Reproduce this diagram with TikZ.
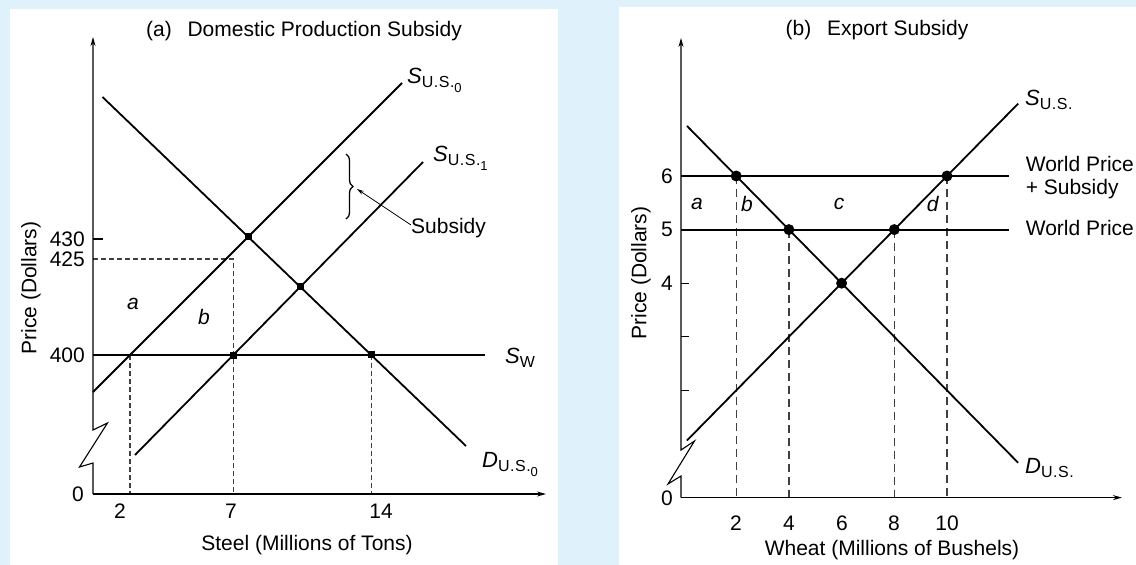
\documentclass[tikz,border=0pt]{standalone}
\usepackage{fontspec}
\setmainfont{Liberation Sans}
\usetikzlibrary{arrows.meta,decorations.pathreplacing}
\definecolor{bgblue}{HTML}{DFF1FA}
\definecolor{dashgray}{gray}{0.25}
\newcommand{\myfs}[1]{\fontsize{#1}{#1}\selectfont}
\newcommand{\curvelab}[3]{{\myfs{22}\textit{#1}}\raisebox{-4pt}{\myfs{16}#2\raisebox{-5pt}{\myfs{13}#3}}}
\newcommand{\usdots}{U\kern0.5pt.\kern0.5pt S\kern0.5pt.}
\begin{document}
\begin{tikzpicture}[x=1pt,y=-1pt,
  txt/.style={font=\myfs{21}, inner sep=0pt},
  curve/.style={line width=1.8pt},
  axisline/.style={line width=1.1pt},
  axarrow/.style={-{Stealth[length=9pt,width=5pt]}},
  dasha/.style={dashgray, line width=1.1pt, dash pattern=on 5pt off 3pt},
  dashb/.style={dashgray, line width=1.3pt, dash pattern=on 8pt off 5pt},
  sqdot/.style={fill=black, rectangle, minimum size=7pt, inner sep=0pt},
  rdot/.style={fill=black, circle, minimum size=11pt, inner sep=0pt}]
\useasboundingbox (0,0) rectangle (1136,565);
\fill[bgblue] (0,0) rectangle (1136,565);
\fill[white] (10,9) rectangle (558,565);
\fill[white] (619,7) rectangle (1136,565);

% ---------------- Panel (a) ----------------
\coordinate (aO) at (93,494);
\coordinate (aYtop) at (93,37);
\coordinate (aXend) at (546,494);
\coordinate (s0a) at (93,392);
\coordinate (s0b) at (402,83);
\coordinate (s1a) at (135,455);
\coordinate (s1b) at (423,162);
\coordinate (da) at (102.5,97);
\coordinate (db) at (466,446);
\coordinate (swa) at (93,355);
\coordinate (swb) at (485,355);
\coordinate (p425) at (93,259);
\coordinate (e0) at (intersection of s0a--s0b and da--db);
\coordinate (e1) at (intersection of s1a--s1b and da--db);
\coordinate (e2) at (intersection of s1a--s1b and swa--swb);
\coordinate (e3) at (intersection of da--db and swa--swb);
\coordinate (e4) at (intersection of s0a--s0b and swa--swb);

\draw[dasha] (p425) -- (p425 -| e2) -- (e2 |- aO);
\draw[dasha] (e4) -- (e4 |- aO);
\draw[dasha] (e3) -- (e3 |- aO);

\draw[axisline, axarrow] (aO) -- (93,463) -- (79.5,467) -- (107.5,423) -- (93,430) -- (aYtop);
\draw[axisline, axarrow] (aO) -- (aXend);
\draw[axisline] (93,239) -- (103,239);

\draw[curve] (s0a) -- (s0b);
\draw[curve] (s1a) -- (s1b);
\draw[curve] (da) -- (db);
\draw[curve] (swa) -- (swb);

\node[sqdot] (d0) at (e0) {};
\node[sqdot] (d1) at (e1) {};
\node[sqdot] (d2) at (e2) {};
\node[sqdot] (d3) at (e3) {};

\draw[line width=1.3pt, decorate, decoration={brace, amplitude=7pt}] (346,154) -- (346,219);
\coordinate (brtip) at (357,189);
\node[txt, anchor=west, inner sep=1pt] (subs) at (410,228) {Subsidy};
\draw[line width=0.7pt, -{Stealth[length=7pt,width=4pt]}] (subs.west) ++(1,-3) -- (brtip);

\node[txt] (ttla) at (304,31) {(a)\hspace{0.75em}Domestic Production Subsidy};
\node[txt, rotate=90] (yla) at (31,288) {Price (Dollars)};
\node[txt, anchor=east] (t430) at (85,239) {430};
\node[txt, anchor=east] (t425) at (85,259) {425};
\node[txt, anchor=east] (t400) at (85,355) {400};
\node[txt] (t0a) at (78,494) {0};
\node[txt] (x2a) at (120,511) {2};
\node[txt] (x7a) at (231,511) {7};
\node[txt] (x14a) at (381,511) {14};
\node[txt] (xla) at (307,545) {Steel (Millions of Tons)};
\node[txt] (la) at (133,304) {\textit{a}};
\node[txt] (lb) at (204,317) {\textit{b}};
\node[txt, anchor=base west] (ls0) at (407,83) {\curvelab{S}{\usdots}{0}};
\node[txt, anchor=base west] (ls1) at (433,161) {\curvelab{S}{\usdots}{1}};
\node[txt, anchor=base west] (lsw) at (505,363) {\curvelab{S}{W}{}};
\node[txt, anchor=base west] (ld0) at (482,467) {\curvelab{D}{\usdots}{0}};

% ---------------- Panel (b) ----------------
\begin{scope}[shift={(683.5pt,-497.6pt)}, x=26.35pt, y=53.6pt]
  \coordinate (bO) at (-0.095,0);
  \coordinate (bYtop) at (-0.095,8.575);
  \coordinate (bXend) at (16.64,0);
  \coordinate (w6a) at (-0.095,6);
  \coordinate (w6b) at (12.34,6);
  \coordinate (w5a) at (-0.095,5);
  \coordinate (w5b) at (12.34,5);
  \coordinate (sa) at (0.13,1.065);
  \coordinate (sb) at (12.7,7.35);
  \coordinate (dda) at (0.13,6.935);
  \coordinate (ddb) at (12.7,0.65);
  \coordinate (q2) at (2,6);
  \coordinate (q4) at (4,5);
  \coordinate (q6) at (6,4);
  \coordinate (q8) at (8,5);
  \coordinate (q10) at (10,6);

  \draw[dashb] (q2) -- (q2 |- bO);
  \draw[dashb] (q4) -- (q4 |- bO);
  \draw[dashb] (q8) -- (q8 |- bO);
  \draw[dashb] (q10) -- (q10 |- bO);

  \draw[axisline, axarrow] (bO) -- (-0.095,0.403) -- (-0.588,0.254) -- (0.417,1.056) -- (-0.095,0.888) -- (bYtop);
  \draw[axisline, axarrow] (bO) -- (bXend);
  \foreach \p in {2,3,4} \draw[axisline] (-0.095,\p) -- (0.21,\p);

  \draw[curve] (w6a) -- (w6b);
  \draw[curve] (w5a) -- (w5b);
  \draw[curve] (sa) -- (sb);
  \draw[curve] (dda) -- (ddb);

  \node[rdot] (b2) at (q2) {};
  \node[rdot] (b4) at (q4) {};
  \node[rdot] (b6) at (q6) {};
  \node[rdot] (b8) at (q8) {};
  \node[rdot] (b10) at (q10) {};
\end{scope}

\node[txt] (ttlb) at (877,30) {(b)\hspace{0.75em}Export Subsidy};
\node[txt, rotate=90] (ylb) at (641,273) {Price (Dollars)};
\node[txt] (t6b) at (667,176) {6};
\node[txt] (t5b) at (667,229.6) {5};
\node[txt] (t4b) at (667,283.2) {4};
\node[txt] (t0b) at (667,498) {0};
\node[txt] (x2b) at (736,523) {2};
\node[txt] (x4b) at (789,523) {4};
\node[txt] (x6b) at (842,523) {6};
\node[txt] (x8b) at (894,523) {8};
\node[txt] (x10b) at (947,523) {10};
\node[txt] (xlb) at (892,550) {Wheat (Millions of Bushels)};
\node[txt, anchor=base west] (lsb) at (1025,105) {\curvelab{S}{\usdots}{}};
\node[txt, anchor=base west] (ldb) at (1025,473) {\curvelab{D}{\usdots}{}};
\node[txt, anchor=west] (wps1) at (1025.6,164) {World Price};
\node[txt, anchor=west] (wps2) at (1025.6,189.5) {+ Subsidy};
\node[txt, anchor=west] (wp) at (1025.6,228) {World Price};
\node[txt] (lab) at (697,204) {\textit{a}};
\node[txt] (lbb) at (747,204) {\textit{b}};
\node[txt] (lcb) at (839,204) {\textit{c}};
\node[txt] (ldbb) at (933,204) {\textit{d}};
\end{tikzpicture}
\end{document}
